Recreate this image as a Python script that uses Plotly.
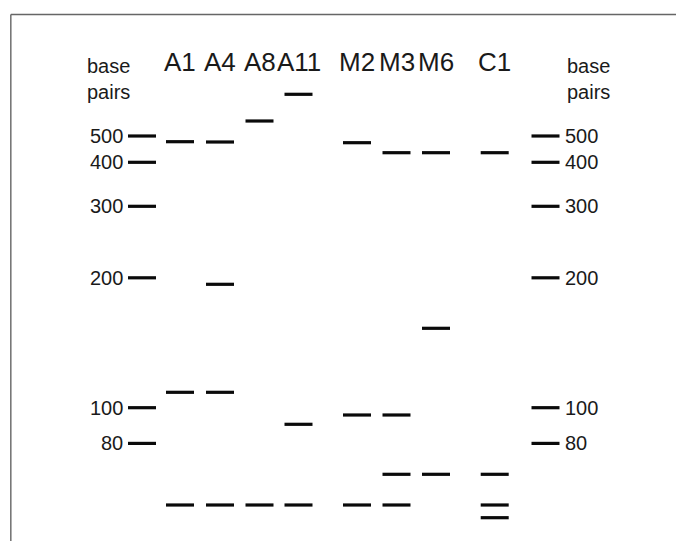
import plotly.graph_objects as go

# ---- data (migration distance, image units from top) ----
lanes = ["A1", "A4", "A8", "A11", "M2", "M3", "M6", "C1"]
a1_bands = [141.7, 392.3, 505]
a4_bands = [142, 284.3, 392.3, 505]
a8_bands = [121, 505]
a11_bands = [94.3, 424.3, 505]
m2_bands = [142.7, 415, 505]
m3_bands = [152.7, 415, 474.3, 505]
m6_bands = [152.7, 328.3, 474.3]
c1_bands = [152.7, 474.3, 505, 517.7]
ladder_bp = [500, 400, 300, 200, 100, 80]
ladder_migration = [136, 162.3, 206.3, 277.8, 407.7, 443.4]

lane_bands = [a1_bands, a4_bands, a8_bands, a11_bands, m2_bands, m3_bands, m6_bands, c1_bands]

# ---- layout positions ----
lane_x = [180, 220, 259.5, 298.5, 357, 396.5, 436, 494.7]
ladder_left_x = 142
ladder_right_x = 545.5
W, H = 676, 541
FONT = "Liberation Sans, Arial, sans-serif"
TXT = "#1a1a1a"

fig = go.Figure()

band_style = dict(symbol="line-ew", size=20, line=dict(width=3.2, color="#0a0a0a"), color="#0a0a0a")

bx, by = [], []
for x, bands in zip(lane_x, lane_bands):
    for m in bands:
        bx.append(x)
        by.append(m)
fig.add_trace(go.Scatter(x=bx, y=by, mode="markers", marker=band_style,
                         hoverinfo="skip", showlegend=False))

# ladders
lx = [ladder_left_x] * len(ladder_migration) + [ladder_right_x] * len(ladder_migration)
ly = ladder_migration + ladder_migration
fig.add_trace(go.Scatter(x=lx, y=ly, mode="markers", marker=band_style,
                         hoverinfo="skip", showlegend=False))

ann = []
for bp, m in zip(ladder_bp, ladder_migration):
    ann.append(dict(x=ladder_left_x - 17, y=m, text=str(bp), showarrow=False,
                    xanchor="right", yanchor="middle", font=dict(size=20, color=TXT, family=FONT)))
    ann.append(dict(x=ladder_right_x + 17, y=m, text=str(bp), showarrow=False,
                    xanchor="left", yanchor="middle", font=dict(size=20, color=TXT, family=FONT)))

for name, x in zip(lanes, lane_x):
    ann.append(dict(x=x, y=62, text=name, showarrow=False, xanchor="center", yanchor="middle",
                    font=dict(size=26, color=TXT, family=FONT)))

for x in (ladder_left_x - 57, ladder_right_x + 19):
    ann.append(dict(x=x, y=79, text="base<br>pairs", showarrow=False, xanchor="left",
                    yanchor="middle", align="left", font=dict(size=20, color=TXT, family=FONT)))

shapes = [
    dict(type="line", x0=10.8, x1=10.8, y0=14.5, y1=H, line=dict(color="#777777", width=1.6)),
    dict(type="line", x0=10.8, x1=W, y0=14.5, y1=14.5, line=dict(color="#666666", width=1.6)),
]

fig.update_layout(
    width=W, height=H,
    margin=dict(l=0, r=0, t=0, b=0),
    paper_bgcolor="white", plot_bgcolor="white",
    xaxis=dict(range=[0, W], visible=False, fixedrange=True),
    yaxis=dict(range=[H, 0], visible=False, fixedrange=True),
    annotations=ann, shapes=shapes,
    showlegend=False,
)

fig.write_html("out.html", config={"displayModeBar": False},
               post_script="document.body.style.margin='0px';document.body.style.overflow='hidden';")
